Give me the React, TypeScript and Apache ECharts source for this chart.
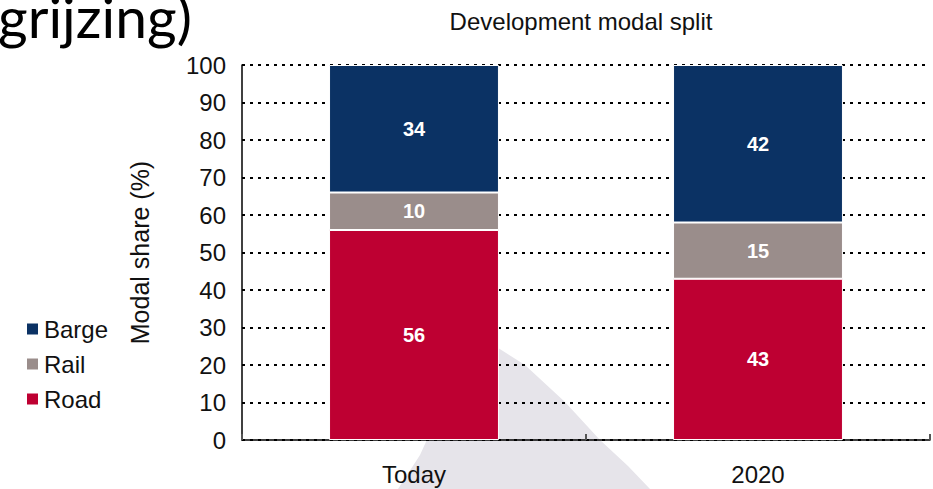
import React, { useEffect, useRef } from "react";
import * as echarts from "echarts";

const categories = ["Today", "2020"];
const roadValues = [56, 43];
const railValues = [10, 15];
const bargeValues = [34, 42];
const yTicks = [0, 10, 20, 30, 40, 50, 60, 70, 80, 90, 100];

const FONT = '"Liberation Sans", Arial, sans-serif';

export default function App() {
  const ref = useRef<HTMLDivElement>(null);
  useEffect(() => {
    if (!ref.current) return;
    const chart = echarts.init(ref.current, undefined, { renderer: "svg" });
    const labelStyle = {
      show: true,
      position: "inside",
      color: "#ffffff",
      fontWeight: "bold",
      fontSize: 20,
      fontFamily: FONT,
    };
    chart.setOption({
      animation: false,
      backgroundColor: "#ffffff",
      graphic: [
        {
          type: "polygon",
          z: -10,
          silent: true,
          shape: {
            points: [
              [470, 330],
              [525, 365],
              [565, 402],
              [600, 440],
              [628, 466],
              [650, 489],
              [398, 489],
              [420, 455],
              [445, 400],
            ],
          },
          style: { fill: "#e6e4ea" },
        },
        {
          type: "text",
          x: -2,
          y: -13,
          style: {
            text: "grijzing)",
            font: '57px Lato, "Open Sans", sans-serif',
            fill: "#000000",
          },
        },
        {
          type: "text",
          x: 581,
          y: 21,
          style: {
            text: "Development modal split",
            font: `24px ${FONT}`,
            fill: "#111111",
            textAlign: "center",
            textVerticalAlign: "middle",
          },
        },
      ],
      legend: {
        orient: "vertical",
        left: 20,
        top: 312,
        itemWidth: 13,
        itemHeight: 13,
        itemGap: 11,
        icon: "rect",
        data: ["Barge", "Rail", "Road"],
        textStyle: { fontSize: 24, fontFamily: FONT, color: "#111111" },
      },
      grid: { left: 242, top: 65, right: 3, bottom: 49, containLabel: false },
      xAxis: {
        type: "category",
        data: categories,
        axisLine: { lineStyle: { color: "#000000", width: 1.5 } },
        axisTick: { show: true, inside: true, length: 6, lineStyle: { color: "#555555", width: 2 } },
        axisLabel: { fontSize: 24, fontFamily: FONT, color: "#111111", margin: 22 },
        splitLine: { show: false },
      },
      yAxis: {
        type: "value",
        min: yTicks[0],
        max: yTicks[yTicks.length - 1],
        interval: 10,
        name: "Modal share (%)",
        nameLocation: "middle",
        nameGap: 90,
        nameTextStyle: { fontSize: 25, fontFamily: FONT, color: "#111111" },
        axisLine: { show: true, lineStyle: { color: "#000000", width: 1.5 } },
        axisTick: { show: false },
        axisLabel: { fontSize: 24, fontFamily: FONT, color: "#111111", margin: 16 },
        splitLine: { show: true, lineStyle: { color: "#000000", width: 2, type: [3, 5] } },
      },
      series: [
        {
          name: "Road",
          type: "bar",
          stack: "total",
          barWidth: "49.4%",
          data: roadValues,
          itemStyle: { color: "#be0032", borderColor: "#ffffff", borderWidth: 1 },
          label: labelStyle,
        },
        {
          name: "Rail",
          type: "bar",
          stack: "total",
          data: railValues,
          itemStyle: { color: "#9a8d8b", borderColor: "#ffffff", borderWidth: 1 },
          label: labelStyle,
        },
        {
          name: "Barge",
          type: "bar",
          stack: "total",
          data: bargeValues,
          itemStyle: { color: "#0b3264", borderColor: "#ffffff", borderWidth: 1 },
          label: labelStyle,
        },
      ],
    });
    return () => chart.dispose();
  }, []);
  return <div ref={ref} style={{ width: 933, height: 489, position: "fixed", left: 0, top: 0 }} />;
}
